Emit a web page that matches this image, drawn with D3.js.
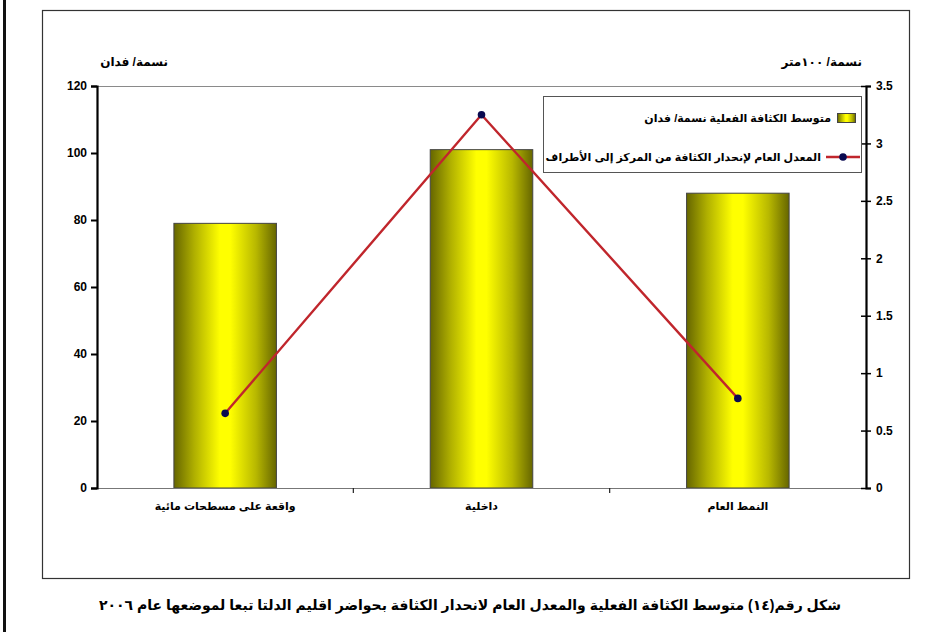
<!DOCTYPE html>
<html>
<head>
<meta charset="utf-8">
<script src="https://cdn.jsdelivr.net/npm/d3@7"></script>
<style>
  html, body { margin: 0; padding: 0; background: #fff; }
  svg { display: block; }
  text { font-family: Arial, "Liberation Sans", "DejaVu Sans", sans-serif; font-weight: bold; fill: #000; }
</style>
</head>
<body>
<svg id="chart" width="928" height="632"></svg>
<script>
// Categories (left to right)
const categories = ["واقعة على مسطحات مائية", "داخلية", "النمط العام"];
// Actual mean density, persons per feddan (bars, left axis)
const densityValues = [79, 101, 88];
// General rate of density decline from centre to edges, persons / 100 m (line, right axis)
const gradientValues = [0.65, 3.25, 0.78];
// Tick values
const leftTicks = [0, 20, 40, 60, 80, 100, 120];
const rightTicks = [0, 0.5, 1, 1.5, 2, 2.5, 3, 3.5];

const barSeriesName = "متوسط الكثافة الفعلية نسمة/ فدان";
const lineSeriesName = "المعدل العام لإنحدار الكثافة من المركز إلى الأطراف";
const leftTitle = "نسمة/ فدان";
const rightTitle = "نسمة/ ١٠٠متر";
const caption = "شكل رقم(١٤) متوسط الكثافة الفعلية والمعدل العام لانحدار الكثافة بحواضر اقليم الدلتا تبعا لموضعها عام ٢٠٠٦";

const svg = d3.select("#chart");
const plot = { left: 97, right: 866, top: 86, bottom: 488 };

// Bar gradient: dark olive edges, bright yellow centre
const defs = svg.append("defs");
const grad = defs.append("linearGradient").attr("id", "barGrad")
  .attr("x1", "0%").attr("x2", "100%").attr("y1", "0%").attr("y2", "0%");
[["0%", "#666600"], ["20%", "#b0b000"], ["45%", "#ffff00"], ["55%", "#ffff00"], ["80%", "#b8b800"], ["100%", "#666600"]]
  .forEach(([o, c]) => grad.append("stop").attr("offset", o).attr("stop-color", c));

// Page edge line and chart frame
svg.append("line").attr("x1", 4.5).attr("x2", 4.5).attr("y1", 0).attr("y2", 632)
  .attr("stroke", "#111").attr("stroke-width", 3);
svg.append("rect").attr("x", 42.5).attr("y", 10.5).attr("width", 867).attr("height", 568)
  .attr("fill", "none").attr("stroke", "#333").attr("stroke-width", 1.2);

// Scales
const x = d3.scaleBand().domain(categories).range([plot.left, plot.right])
  .paddingInner(0.6).paddingOuter(0.3);
const yL = d3.scaleLinear().domain([0, 120]).range([plot.bottom, plot.top]);
const yR = d3.scaleLinear().domain([0, 3.5]).range([plot.bottom, plot.top]);

// Top plot border
svg.append("line").attr("x1", plot.left).attr("x2", plot.right)
  .attr("y1", yL(120) + 0.5).attr("y2", yL(120) + 0.5)
  .attr("stroke", "#8a8a8a").attr("stroke-width", 1);

// Bars
svg.append("g").selectAll("rect").data(categories).join("rect")
  .attr("x", d => x(d))
  .attr("y", (d, i) => yL(densityValues[i]))
  .attr("width", x.bandwidth())
  .attr("height", (d, i) => yL(0) - yL(densityValues[i]))
  .attr("fill", "url(#barGrad)")
  .attr("stroke", "#444").attr("stroke-width", 1);

// Category axis
const step = x.step();
svg.append("line").attr("x1", plot.left).attr("x2", plot.right)
  .attr("y1", plot.bottom + 0.5).attr("y2", plot.bottom + 0.5)
  .attr("stroke", "#777").attr("stroke-width", 1.2);
svg.append("g").selectAll("line").data(categories.slice(0, -1)).join("line")
  .attr("x1", d => x(d) + x.bandwidth() / 2 + step / 2)
  .attr("x2", d => x(d) + x.bandwidth() / 2 + step / 2)
  .attr("y1", plot.bottom).attr("y2", plot.bottom + 5)
  .attr("stroke", "#222").attr("stroke-width", 1.2);
svg.append("g").selectAll("text").data(categories).join("text")
  .attr("x", d => x(d) + x.bandwidth() / 2)
  .attr("y", plot.bottom + 22)
  .attr("text-anchor", "middle")
  .attr("font-size", 11)
  .text(d => d);

// Left axis
const gL = svg.append("g").attr("transform", `translate(${plot.left},0)`)
  .call(d3.axisLeft(yL).tickValues(leftTicks).tickSize(6).tickPadding(4).tickFormat(d3.format("~g")));
gL.select(".domain").attr("stroke", "#000").attr("stroke-width", 2.2);
gL.selectAll(".tick line").attr("stroke", "#000").attr("stroke-width", 2);
gL.selectAll(".tick text").attr("font-size", 12).attr("font-family", "Arial, 'Liberation Sans', sans-serif").attr("font-weight", "bold");

// Right axis (ticks cross the axis line)
const gR = svg.append("g").attr("transform", `translate(${plot.right},0)`)
  .call(d3.axisRight(yR).tickValues(rightTicks).tickSize(5).tickPadding(5).tickFormat(d3.format("~g")));
gR.select(".domain").attr("stroke", "#000").attr("stroke-width", 2.2);
gR.selectAll(".tick line").attr("x1", -5).attr("stroke", "#000").attr("stroke-width", 1.5);
gR.selectAll(".tick text").attr("font-size", 12).attr("font-family", "Arial, 'Liberation Sans', sans-serif").attr("font-weight", "bold");

// Axis titles
svg.append("text").attr("x", 168).attr("y", 66).attr("direction", "rtl")
  .attr("text-anchor", "start").attr("font-size", 12).text(leftTitle);
svg.append("text").attr("x", 862).attr("y", 66).attr("direction", "rtl")
  .attr("text-anchor", "start").attr("font-size", 12).text(rightTitle);

// Line series
const cx = (d, i) => x(categories[i]) + x.bandwidth() / 2;
const line = d3.line().x((d, i) => cx(d, i)).y(d => yR(d));
svg.append("path").datum(gradientValues)
  .attr("d", line).attr("fill", "none")
  .attr("stroke", "#c0262c").attr("stroke-width", 2.4);
svg.append("g").selectAll("circle").data(gradientValues).join("circle")
  .attr("cx", (d, i) => cx(d, i)).attr("cy", d => yR(d)).attr("r", 3.8)
  .attr("fill", "#0a0a50");

// Legend
const lg = svg.append("g");
lg.append("rect").attr("x", 543.5).attr("y", 96.5).attr("width", 318).attr("height", 76)
  .attr("fill", "#fff").attr("stroke", "#555").attr("stroke-width", 1);
lg.append("rect").attr("x", 837.5).attr("y", 113.5).attr("width", 18).attr("height", 9)
  .attr("fill", "url(#barGrad)").attr("stroke", "#444").attr("stroke-width", 1);
lg.append("text").attr("x", 831).attr("y", 122).attr("direction", "rtl")
  .attr("text-anchor", "start").attr("font-size", 11).text(barSeriesName);
lg.append("line").attr("x1", 826).attr("x2", 860).attr("y1", 157).attr("y2", 157)
  .attr("stroke", "#c0262c").attr("stroke-width", 2.4);
lg.append("circle").attr("cx", 843).attr("cy", 157).attr("r", 3.8).attr("fill", "#0a0a50");
lg.append("text").attr("x", 821).attr("y", 161).attr("direction", "rtl")
  .attr("text-anchor", "start").attr("font-size", 11).text(lineSeriesName);

// Caption
svg.append("text").attr("x", 470).attr("y", 610).attr("direction", "rtl")
  .attr("text-anchor", "middle").attr("font-size", 14).text(caption);
</script>
</body>
</html>
